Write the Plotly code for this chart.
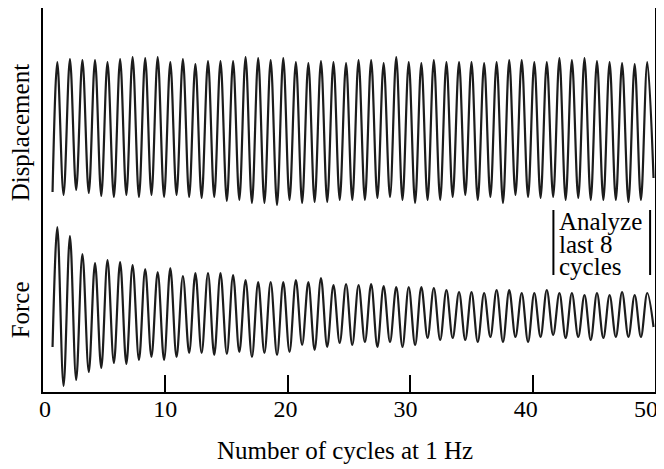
import plotly.graph_objects as go

# ---- data (y in arbitrary height units) ----
peak_t = [1.17, 2.20, 3.22, 4.25, 5.27, 6.30, 7.32, 8.35, 9.37, 10.40,
          11.43, 12.45, 13.48, 14.50, 15.53, 16.55, 17.58, 18.60, 19.63, 20.66,
          21.68, 22.71, 23.73, 24.76, 25.78, 26.81, 27.83, 28.86, 29.88, 30.91,
          31.93, 32.96, 33.99, 35.01, 36.04, 37.06, 38.09, 39.11, 40.14, 41.16,
          42.19, 43.21, 44.24, 45.26, 46.29, 47.31, 48.34, 49.37]
trough_t = [1.68, 2.71, 3.74, 4.76, 5.79, 6.81, 7.84, 8.86, 9.89, 10.91,
            11.94, 12.96, 13.99, 15.02, 16.04, 17.07, 18.09, 19.12, 20.14, 21.17,
            22.19, 23.22, 24.24, 25.27, 26.30, 27.32, 28.35, 29.37, 30.40, 31.42,
            32.45, 33.47, 34.50, 35.52, 36.55, 37.58, 38.60, 39.63, 40.65, 41.68,
            42.70, 43.73, 44.75, 45.78, 46.80, 47.83, 48.85]
start_t = 0.78
end_t = 49.88

disp_peaks = [330, 333, 332, 332, 330, 333, 335, 334, 335, 330, 333, 328, 331, 331, 331, 335,
              334, 332, 334, 330, 329, 331, 330, 329, 332, 332, 329, 335, 330, 329, 332, 330,
              330, 330, 329, 330, 332, 332, 330, 330, 334, 332, 334, 331, 330, 329, 328, 330]
disp_troughs = [197, 202, 199, 196, 195, 197, 195, 197, 195, 197, 195, 194, 195, 191, 192,
                189, 189, 187, 192, 189, 190, 190, 192, 192, 192, 194, 195, 192, 189, 192, 192,
                195, 197, 192, 195, 189, 197, 195, 194, 195, 192, 194, 192, 192, 192, 190, 192]
disp_start = 200
disp_end = 214

force_peaks = [165, 156, 138, 129, 132, 130, 127, 123, 120, 124, 116, 119, 119, 119, 117, 112,
               110, 110, 110, 112, 110, 114, 107, 108, 107, 108, 106, 105, 105, 105, 104, 102,
               100, 100, 99, 102, 102, 99, 99, 102, 99, 99, 97, 99, 97, 100, 97, 99]
force_troughs = [6, 12, 20, 24, 29, 28, 32, 35, 32, 35, 39, 39, 37, 38, 40,
                 35, 39, 37, 40, 47, 42, 45, 49, 47, 50, 45, 50, 45, 47, 54, 52,
                 54, 52, 50, 55, 50, 55, 50, 55, 57, 54, 55, 52, 54, 55, 55, 55]
force_start = 45
force_end = 65

x_ticks = [0, 10, 20, 30, 40, 50]
analyze_window = [41.7, 49.6]
analyze_lines = ["Analyze", "last 8", "cycles"]
analyze_line_y = [171, 148, 126]
analyze_bar_y = [117, 182]

FONT = "Liberation Serif, Times New Roman, serif"
INK = "#1c1c1c"


def build(times_p, times_t, peaks, troughs, t0, v0, t1, v1):
    xs, ys = [t0], [v0]
    for i in range(len(times_p)):
        xs.append(times_p[i]); ys.append(peaks[i])
        if i < len(times_t):
            xs.append(times_t[i]); ys.append(troughs[i])
    xs.append(t1); ys.append(v1)
    return xs, ys


dx, dy = build(peak_t, trough_t, disp_peaks, disp_troughs, start_t, disp_start, end_t, disp_end)
fx, fy = build(peak_t, trough_t, force_peaks, force_troughs, start_t, force_start, end_t, force_end)

fig = go.Figure()
for xs, ys, name in [(dx, dy, "Displacement"), (fx, fy, "Force")]:
    fig.add_trace(go.Scatter(x=xs, y=ys, mode="lines", name=name,
                             line=dict(color=INK, width=2.2, shape="spline", smoothing=1.0),
                             showlegend=False, hoverinfo="skip"))

# invisible helper trace so the tick-label axis is drawn
fig.add_trace(go.Scatter(x=x_ticks, y=[None] * len(x_ticks), xaxis="x2", yaxis="y",
                         mode="markers", showlegend=False, hoverinfo="skip"))

# bracket bars around the last 8 cycles
for xb in analyze_window:
    fig.add_shape(type="line", xref="x", yref="y", x0=xb, x1=xb,
                  y0=analyze_bar_y[0], y1=analyze_bar_y[1],
                  line=dict(color="black", width=2), layer="above")

for txt, yv in zip(analyze_lines, analyze_line_y):
    fig.add_annotation(text=txt, xref="x", yref="y", x=42.0, y=yv,
                       xanchor="left", yanchor="middle", showarrow=False,
                       font=dict(family=FONT, size=25, color="black"))

# y-side labels
fig.add_annotation(text="Displacement", xref="paper", yref="y", x=-0.037, y=260,
                   textangle=-90, showarrow=False, xanchor="center", yanchor="middle",
                   font=dict(family=FONT, size=25, color="black"))
fig.add_annotation(text="Force", xref="paper", yref="y", x=-0.037, y=82,
                   textangle=-90, showarrow=False, xanchor="center", yanchor="middle",
                   font=dict(family=FONT, size=25, color="black"))
# x title
fig.add_annotation(text="Number of cycles at 1 Hz", xref="paper", yref="paper",
                   x=0.493, y=-0.153, showarrow=False, xanchor="center", yanchor="middle",
                   font=dict(family=FONT, size=25, color="black"))

fig.update_layout(
    xaxis=dict(range=[0, 50], tickvals=x_ticks, showticklabels=False,
               ticks="inside", ticklen=17, tickwidth=1.5, tickcolor="black",
               showline=True, linecolor="black", linewidth=1.5, mirror=True,
               showgrid=False, zeroline=False, automargin=False),
    xaxis2=dict(range=[0, 50], tickvals=x_ticks, ticktext=[str(t) for t in x_ticks],
                domain=[0.0033, 0.9853], anchor="y", side="bottom",
                ticks="", showline=False, showgrid=False, zeroline=False,
                ticklabelstandoff=0, ticklabeloverflow="allow", automargin=False,
                tickfont=dict(family=FONT, size=24, color="black")),
    yaxis=dict(range=[0, 384], showticklabels=False, ticks="",
               showline=True, linecolor="black", linewidth=1.5, mirror=True,
               showgrid=False, zeroline=False, automargin=False),
    width=656, height=461, margin=dict(l=35, r=9, t=0, b=77),
    plot_bgcolor="rgba(0,0,0,0)", paper_bgcolor="white",
    font=dict(family=FONT, color="black"),
)

fig.write_html("out.html")
